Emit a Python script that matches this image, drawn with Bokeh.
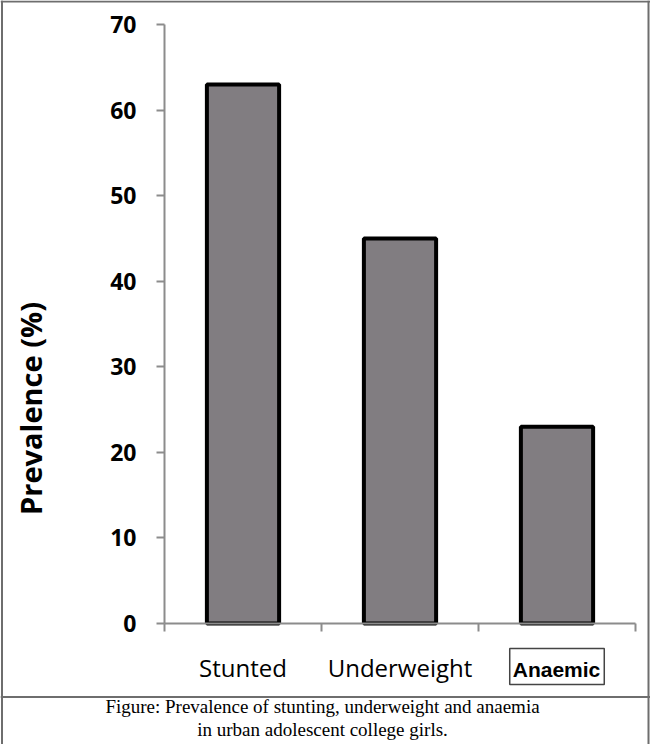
import math
from bokeh.plotting import figure
from bokeh.models import Range1d, FixedTicker, Label, Span
from bokeh.embed import file_html
from bokeh.resources import INLINE

# ---- data ----
categories = ["Stunted", "Underweight", "Anaemic"]
prevalence = [63, 45, 23]
y_ticks = [0, 10, 20, 30, 40, 50, 60, 70]
y_label = "Prevalence (%)"
caption_lines = [
    "Figure: Prevalence of stunting, underweight and anaemia",
    "in urban adolescent college girls.",
]

AXIS_GRAY = "#8c8c8c"
BORDER_GRAY = "#6e6e6e"
BAR_FILL = "#817d81"

W, H = 650, 744
n = len(categories)
ymax = max(y_ticks)

# pixel layout of the reference
X_AXIS_PX, X_END_PX = 164, 635        # y axis position / end of x axis
Y_ZERO_PX, Y_TOP_PX = 623, 24          # y=0 and y=70 positions
xppu = (X_END_PX - X_AXIS_PX) / n
yppu = (Y_ZERO_PX - Y_TOP_PX) / ymax

def dx(px):
    return (px - X_AXIS_PX) / xppu

def dy(py):
    return (Y_ZERO_PX - py) / yppu

p = figure(
    width=W, height=H,
    x_range=Range1d(dx(0), dx(W)), y_range=Range1d(dy(H), dy(0)),
    x_axis_location="above",
    output_backend="svg", toolbar_location=None,
    min_border=0,
)
p.grid.visible = False
p.outline_line_color = None

# bars
xs = [i + 0.5 for i in range(n)]
p.vbar(x=xs, top=prevalence, width=0.46, fill_color=BAR_FILL,
       line_color="black", line_width=4)

# y axis (at x = 0, limited to 0..70)
ya = p.yaxis[0]
ya.fixed_location = 0
ya.bounds = (0, ymax)
ya.ticker = FixedTicker(ticks=y_ticks)
ya.minor_tick_line_color = None
ya.major_tick_in = 0
ya.major_tick_out = 8
ya.major_tick_line_color = AXIS_GRAY
ya.major_tick_line_width = 2
ya.axis_line_color = AXIS_GRAY
ya.axis_line_width = 2
ya.major_label_text_font = "Open Sans"
ya.major_label_text_font_style = "bold"
ya.major_label_text_font_size = "23px"
ya.major_label_text_color = "black"
ya.major_label_standoff = 20

# x axis (at y = 0), ticks at category boundaries pointing down
xa = p.xaxis[0]
bounds = list(range(n + 1))
xa.fixed_location = 0
xa.bounds = (0, n)
xa.ticker = FixedTicker(ticks=bounds)
xa.major_label_overrides = {b: "" for b in bounds}
xa.major_label_standoff = 0
xa.minor_tick_line_color = None
xa.major_tick_in = 8
xa.major_tick_out = 0
xa.major_tick_line_color = AXIS_GRAY
xa.major_tick_line_width = 2
xa.axis_line_color = AXIS_GRAY
xa.axis_line_width = 2

# category labels
for i, c in enumerate(categories):
    if i == n - 1:
        lab = Label(x=i + 0.5, y=dy(666), text=c,
                    text_align="center", text_baseline="middle",
                    text_font="Liberation Sans", text_font_style="bold",
                    text_font_size="21px", text_color="black",
                    border_line_color="#444444", border_line_width=1.5,
                    padding=(3, 4, 9, 4))
    else:
        lab = Label(x=i + 0.5, y=dy(667), text=c,
                    text_align="center", text_baseline="middle",
                    text_font="Open Sans", text_font_size="24px", text_color="black")
    p.add_layout(lab)

# y axis title
p.add_layout(Label(x=dx(30), y=dy(408), text=y_label, angle=math.pi / 2,
                   text_align="center", text_baseline="middle",
                   text_font="Open Sans", text_font_style="bold",
                   text_font_size="29px", text_color="black"))

# picture border and caption separator
p.add_layout(Span(location=dy(1), dimension="width", line_color=BORDER_GRAY, line_width=2))
p.add_layout(Span(location=dx(1.5), dimension="height", line_color=BORDER_GRAY, line_width=2))
p.add_layout(Span(location=dx(648), dimension="height", line_color=BORDER_GRAY, line_width=2))
p.add_layout(Span(location=dy(696.5), dimension="width", line_color=BORDER_GRAY, line_width=2))

for k, line in enumerate(caption_lines):
    p.add_layout(Label(x=dx(322), y=dy(706 + 23 * k), text=line,
                       text_align="center", text_baseline="middle",
                       text_font="Liberation Serif", text_font_size="19px",
                       text_color="black"))

open("out.html", "w").write(file_html(p, INLINE))
